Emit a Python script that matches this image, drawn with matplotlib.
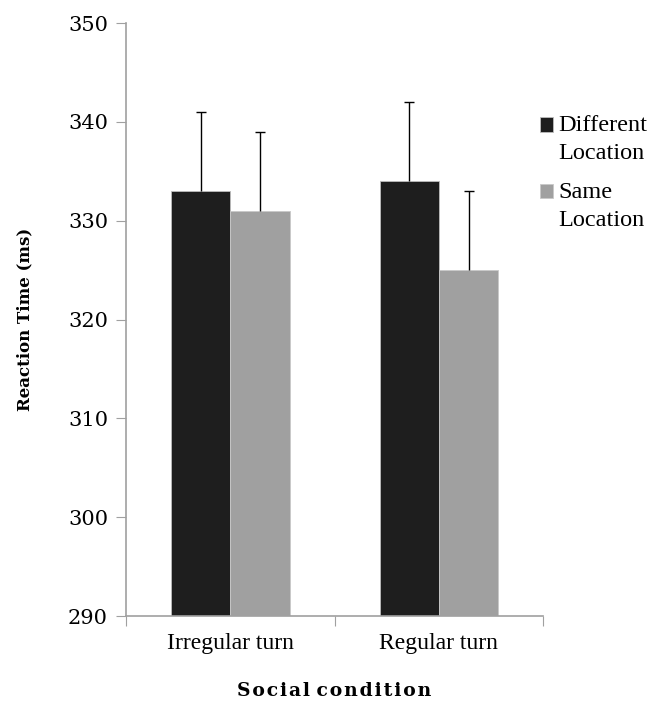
import matplotlib
matplotlib.use("Agg")
import matplotlib.pyplot as plt
from matplotlib.font_manager import FontProperties
import numpy as np

categories = ["Irregular turn", "Regular turn"]
series_names = ["Different\nLocation", "Same\nLocation"]
different = [333, 334]
same = [331, 325]
different_err = [8, 8]
same_err = [8, 8]
colors = ["#1e1e1e", "#a0a0a0"]

fig = plt.figure(figsize=(6.6, 7.01), dpi=100)
ax = fig.add_axes([0.191, 0.121, 0.632, 0.846])

x = np.arange(len(categories))
w = 0.284
b1 = ax.bar(x - w / 2, different, w, color=colors[0], edgecolor="#bdbdbd", linewidth=0.6,
            label=series_names[0], zorder=2)
b2 = ax.bar(x + w / 2, same, w, color=colors[1], edgecolor="#c8c8c8", linewidth=0.6,
            label=series_names[1], zorder=2)
for xs, vals, errs in [(x - w / 2, different, different_err), (x + w / 2, same, same_err)]:
    eb = ax.errorbar(xs, vals, yerr=[np.zeros(len(x)), errs], fmt="none",
                     ecolor="black", elinewidth=1, capsize=3.5, capthick=1, zorder=3)
    caps = eb[1]
    if len(caps) >= 2:
        caps[0].set_visible(False)

ax.set_ylim(290, 350)
ax.set_xlim(-0.5, 1.5)
ax.set_yticks(np.arange(290, 351, 10))
ax.set_yticklabels([str(v) for v in range(290, 351, 10)], family="DejaVu Serif", fontsize=15)
ax.set_xticks([-0.5, 0.5, 1.5])
ax.set_xticklabels([])
ax.set_xticks(x, minor=True)
ax.set_xticklabels(categories, minor=True, family="Liberation Serif", fontsize=17)
ax.tick_params(axis="x", which="minor", length=0, pad=12)
ax.tick_params(axis="x", which="major", length=7, color="#a0a0a0", direction="out")
ax.tick_params(axis="y", length=7, color="#a0a0a0", direction="out", pad=6)

for s in ["top", "right"]:
    ax.spines[s].set_visible(False)
for s in ["left", "bottom"]:
    ax.spines[s].set_color("#a0a0a0")
    ax.spines[s].set_linewidth(1.2)

ax.set_ylabel("Reaction Time (ms)", family="DejaVu Serif", fontweight="bold", fontsize=12, labelpad=25)
ax.set_xlabel("S o c i a l  c o n d i t i o n".replace(" ", "\u200a").replace("\u200a\u200a", " "),
              family="DejaVu Serif", fontweight="bold", fontsize=13.5, labelpad=20)

leg_font = FontProperties(family="Liberation Serif", size=17.5)
leg = fig.legend(handles=[b1, b2], labels=series_names, loc="upper left",
                 bbox_to_anchor=(0.818, 0.836), frameon=False, borderaxespad=0, borderpad=0,
                 prop=leg_font,
                 handlelength=0.55, handleheight=0.55, handletextpad=0.2, labelspacing=0.72)
for t in leg.get_texts():
    t.set_fontproperties(leg_font)
    t.set_linespacing(1.45)
for h in leg.legend_handles:
    h.set_y(h.get_y() + 10.5)

fig.savefig("out.png", dpi=100)
